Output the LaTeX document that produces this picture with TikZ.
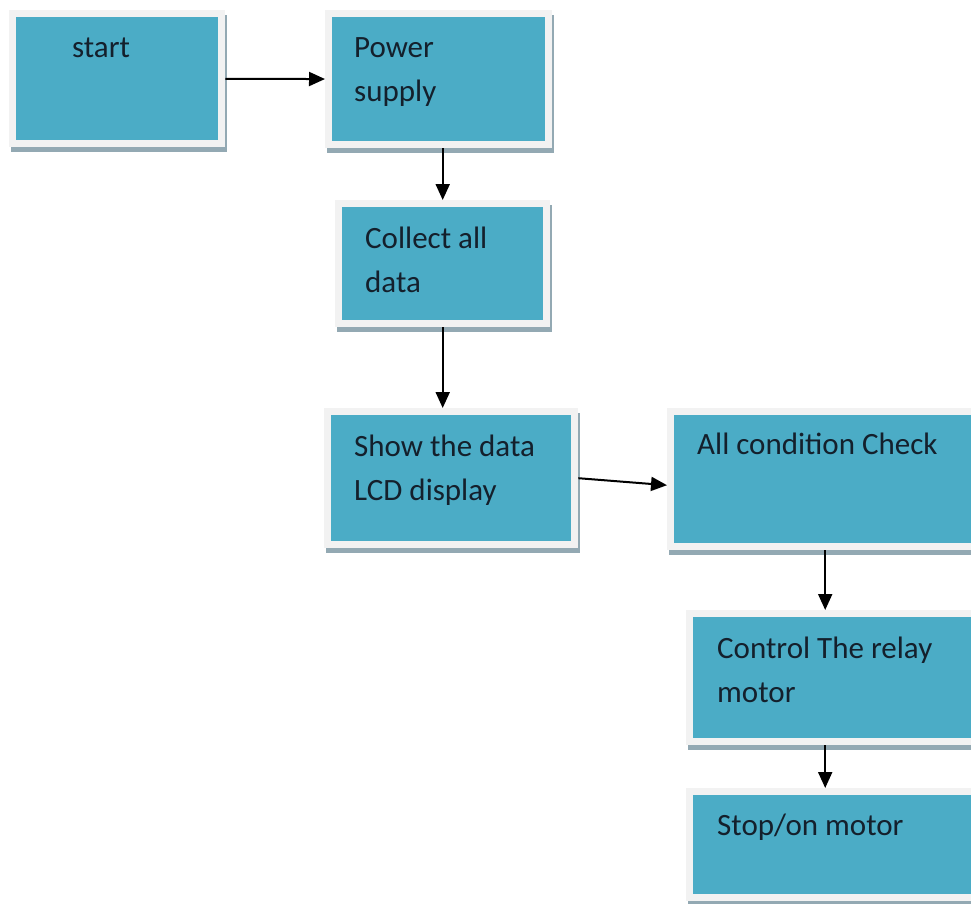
\documentclass[tikz,border=0pt]{standalone}
\usepackage{fontspec}
\setmainfont{Carlito}
\usetikzlibrary{arrows.meta,shadows}

\definecolor{boxteal}{HTML}{4BACC6}
\definecolor{framegrey}{HTML}{F2F2F2}
\definecolor{shadegrey}{HTML}{93A9B3}
\definecolor{inkdark}{HTML}{14202C}

\tikzset{
  stepbox/.style={fill=framegrey, draw=none, inner sep=0pt, anchor=north west,
    drop shadow={shadow xshift=2pt, shadow yshift=-5pt, fill=shadegrey, opacity=1},
    path picture={\fill[boxteal] ([shift={(7pt,-7pt)}]path picture bounding box.north west)
      rectangle ([shift={(-7pt,7pt)}]path picture bounding box.south east);}},
  steptext/.style={anchor=base west, inner sep=0pt, align=left, text=inkdark,
    font=\fontsize{31}{44}\selectfont},
  flow/.style={-{Triangle[length=16pt,width=14pt]}, line width=2pt},
}

\begin{document}
\begin{tikzpicture}[x=1pt, y=-1pt]
  \clip (0,0) rectangle (971,903);
  \fill[white] (0,0) rectangle (971,903);

  % boxes, placed by their top left corner
  \node[stepbox, minimum width=216, minimum height=137] (start) at (9,10) {};
  \node[stepbox, minimum width=227, minimum height=138] (power) at (325,10) {};
  \node[stepbox, minimum width=215, minimum height=127] (collect) at (335,200) {};
  \node[stepbox, minimum width=254, minimum height=140] (show) at (324,408) {};
  \node[stepbox, minimum width=316, minimum height=142] (check) at (667,408) {};
  \node[stepbox, minimum width=300, minimum height=135] (control) at (686,610) {};
  \node[stepbox, minimum width=300, minimum height=113] (stop) at (686,788) {};

  % labels, on the baseline of their last line
  \node[steptext] (start-t) at (72,57) {start};
  \node[steptext] (power-t) at (354,101) {Power\\supply};
  \node[steptext] (collect-t) at (365,292) {Collect all\\data};
  \node[steptext] (show-t) at (354,500) {Show the data\\LCD display};
  \node[steptext] (check-t) at (697,454) {All condition Check};
  \node[steptext] (control-t) at (717,702) {Control The relay\\motor};
  \node[steptext] (stop-t) at (717,835) {Stop/on motor};

  % arrows
  \draw[flow] (start) -- (power);
  \draw[flow] (collect.north |- power.south) -- (collect.north);
  \draw[flow] (collect.south) -- (collect.south |- show.north);
  \draw[flow] (show.east) -- ([yshift=-6pt]check.west);
  \draw[flow] (check.south) -- (check.south |- control.north);
  \draw[flow] (check.south |- control.south) -- (check.south |- stop.north);
\end{tikzpicture}
\end{document}
